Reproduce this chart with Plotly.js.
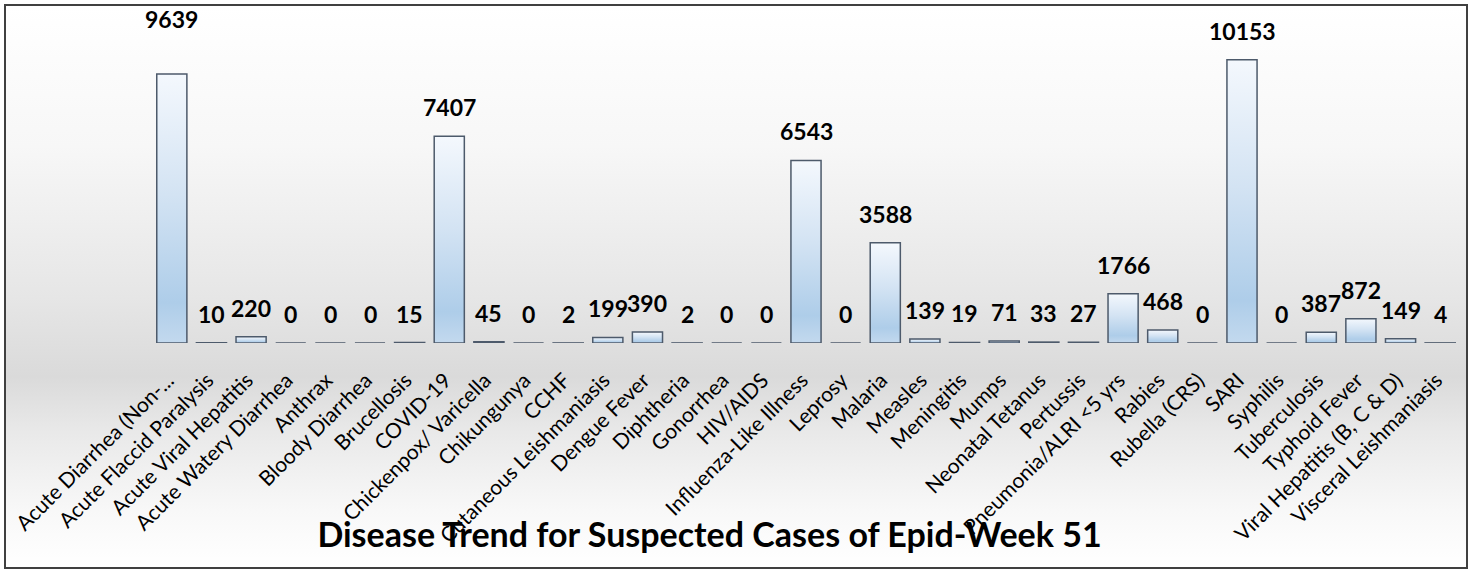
<!DOCTYPE html>
<html>
<head>
<meta charset="utf-8">
<script src="https://cdn.plot.ly/plotly-3.0.1.min.js"></script>
<style>
  html, body { margin: 0; padding: 0; width: 1472px; height: 572px; overflow: hidden; background: #ffffff; }
  #frame {
    position: absolute; left: 4px; top: 4px; width: 1460px; height: 561px;
    border: 2px solid #404040;
    background: linear-gradient(to bottom, #ffffff 0%, #f7f7f7 25%, #e6e6e6 52%, #dadada 66%, #e9e9e9 76%, #f8f8f8 90%, #ffffff 100%);
  }
  #chart { position: absolute; left: 0; top: 0; width: 1472px; height: 572px; }
</style>
</head>
<body>
<div id="frame"></div>
<div id="chart"></div>
<script>
const categories = [
  "Acute Diarrhea (Non-...", "Acute Flaccid Paralysis", "Acute Viral Hepatitis",
  "Acute Watery Diarrhea", "Anthrax", "Bloody Diarrhea", "Brucellosis", "COVID-19",
  "Chickenpox/ Varicella", "Chikungunya", "CCHF", "Cutaneous Leishmaniasis",
  "Dengue Fever", "Diphtheria", "Gonorrhea", "HIV/AIDS", "Influenza-Like Illness",
  "Leprosy", "Malaria", "Measles", "Meningitis", "Mumps", "Neonatal Tetanus",
  "Pertussis", "Pneumonia/ALRI <5 yrs", "Rabies", "Rubella (CRS)", "SARI",
  "Syphilis", "Tuberculosis", "Typhoid Fever", "Viral Hepatitis (B, C & D)",
  "Visceral Leishmaniasis"
];
const cases = [
  9639, 10, 220, 0, 0, 0, 15, 7407, 45, 0, 2, 199, 390, 2, 0, 0, 6543,
  0, 3588, 139, 19, 71, 33, 27, 1766, 468, 0, 10153, 0, 387, 872, 149, 4
];
const chartTitle = "Disease Trend for Suspected Cases of Epid-Week 51";

const FONT = "Lato, 'Open Sans', sans-serif";

const trace = {
  type: "bar",
  x: categories,
  y: cases,
  marker: { color: "#cfe0f2", line: { color: "#4d5a6b", width: 1.5 } },
  hoverinfo: "x+y"
};

// the first data label sits higher in the original chart
const extraLift = { "Acute Diarrhea (Non-...": 26 };

const annotations = categories.map((c, i) => ({
  x: c, y: cases[i], xref: "x", yref: "y",
  text: String(cases[i]), showarrow: false,
  yanchor: "bottom", yshift: 13 + (extraLift[c] || 0),
  font: { family: FONT, size: 23, color: "#000000", weight: 700 }
}));

const layout = {
  width: 1472, height: 572,
  margin: { l: 152, r: 12, t: 36, b: 229, autoexpand: false },
  paper_bgcolor: "rgba(0,0,0,0)",
  plot_bgcolor: "rgba(0,0,0,0)",
  bargap: 0.24,
  showlegend: false,
  title: {
    text: chartTitle,
    x: 0.482, xref: "container", xanchor: "center",
    y: 0.065, yref: "container", yanchor: "middle",
    font: { family: FONT, size: 34, color: "#000000", weight: 700 }
  },
  xaxis: {
    type: "category",
    tickangle: -45,
    showgrid: false, showline: false, zeroline: false, ticks: "",
    tickfont: { family: FONT, size: 21, color: "#000000" },
    ticklabelstandoff: 20,
    ticklabelshift: -4,
    automargin: false,
    range: [-0.5, categories.length - 0.5]
  },
  yaxis: {
    range: [0, 11000],
    visible: false, showgrid: false, zeroline: false, fixedrange: true
  },
  annotations: annotations
};

Plotly.newPlot("chart", [trace], layout, { displayModeBar: false, staticPlot: true }).then(gd => {
  const NS = "http://www.w3.org/2000/svg";
  const svg = gd.querySelector("svg.main-svg");
  let defs = svg.querySelector("defs");
  if (!defs) { defs = document.createElementNS(NS, "defs"); svg.insertBefore(defs, svg.firstChild); }
  const grad = document.createElementNS(NS, "linearGradient");
  grad.setAttribute("id", "barGrad");
  grad.setAttribute("x1", "0"); grad.setAttribute("y1", "0");
  grad.setAttribute("x2", "0"); grad.setAttribute("y2", "1");
  [["0", "#f4f8fd"], ["0.45", "#d3e3f3"], ["0.85", "#aecde9"], ["1", "#c3d9ee"]].forEach(([o, col]) => {
    const s = document.createElementNS(NS, "stop");
    s.setAttribute("offset", o); s.setAttribute("stop-color", col);
    grad.appendChild(s);
  });
  defs.appendChild(grad);
  gd.querySelectorAll(".barlayer .point path").forEach(p => {
    p.style.fill = "url(#barGrad)";
  });
});
</script>
</body>
</html>
